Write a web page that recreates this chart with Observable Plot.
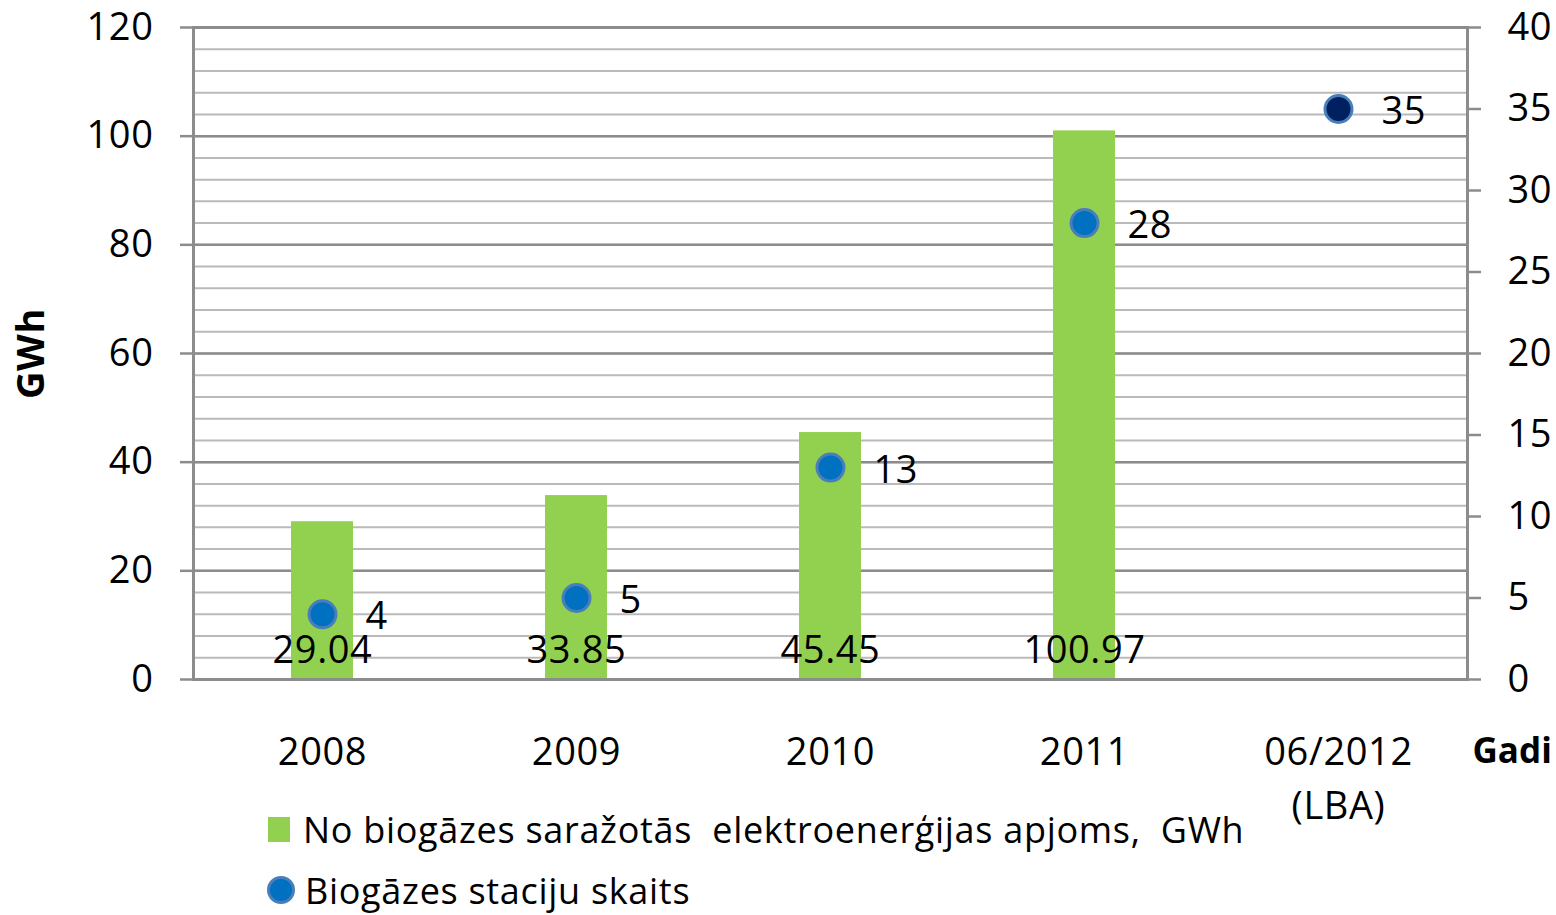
<!DOCTYPE html>
<html>
<head>
<meta charset="utf-8">
<script src="https://cdn.jsdelivr.net/npm/d3@7"></script>
<script src="https://cdn.jsdelivr.net/npm/@observablehq/plot@0.6"></script>
<style>
  html, body { margin: 0; padding: 0; background: #fff; overflow: hidden; }
  #wrap { position: relative; width: 1556px; height: 915px; font-family: "Open Sans", sans-serif; }
  #wrap svg text { letter-spacing: 0.6px; }
  #wrap svg text.gadi, #wrap svg .gadi text { letter-spacing: 0; }
  g[aria-label="y-axis label"] text { font-weight: bold; letter-spacing: 0; }
  .legend { position: absolute; left: 268px; top: 808px; font-size: 36px; letter-spacing: 0.7px; color: #000; }
  .legend .row { display: flex; align-items: center; height: 42px; margin-bottom: 19px; white-space: pre; }
  .legend .sq { width: 22px; height: 25px; background: #92D050; margin-right: 13px; }
  .legend .dot { width: 22px; height: 22px; border-radius: 50%; background: #0070C0; border: 3px solid #4A7EBB; margin-left: -1px; margin-right: 10px; }
</style>
</head>
<body>
<div id="wrap"></div>
<script>
// ---- data ----
const categories = ["2008", "2009", "2010", "2011", "06/2012"];
const tickLabels = ["2008", "2009", "2010", "2011", "06/2012\n(LBA)"];
const gwh = [29.04, 33.85, 45.45, 100.97, null];
const stations = [4, 5, 13, 28, 35];
const leftTicks = [0, 20, 40, 60, 80, 100, 120];
const rightTicks = [0, 5, 10, 15, 20, 25, 30, 35, 40];
const legendLabels = ["No biogāzes saražotās  elektroenerģijas apjoms,  GWh", "Biogāzes staciju skaits"];

// ---- derived tables ----
const leftMax = 120, rightMax = 40, ratio = leftMax / rightMax;
const bars = categories.map((c, i) => ({cat: c, v: gwh[i]})).filter(d => d.v != null);
const pts = categories.map((c, i) => ({cat: c, n: stations[i]}));
const minorGrid = d3.range(0, leftMax + 1, 4);
const labelOf = new Map(categories.map((c, i) => [c, tickLabels[i]]));

const chart = Plot.plot({
  width: 1556,
  height: 860,
  marginLeft: 193,
  marginRight: 89,
  marginTop: 27,
  marginBottom: 181,
  style: {fontFamily: "Open Sans, sans-serif", fontSize: "38px", color: "#000", background: "#fff"},
  x: {type: "band", domain: categories, paddingInner: 0.757, paddingOuter: 0.3785, align: 0.5},
  y: {domain: [0, leftMax]},
  marks: [
    Plot.ruleY(minorGrid, {stroke: "#bababa", strokeWidth: 2}),
    Plot.ruleY(leftTicks, {stroke: "#8c8c8c", strokeWidth: 2.5}),
    Plot.barY(bars, {x: "cat", y: "v", fill: "#92D050"}),
    Plot.frame({stroke: "#8c8c8c", strokeWidth: 3}),
    Plot.axisY(leftTicks, {anchor: "left", tickSize: 13, tickPadding: 27, stroke: "#8c8c8c", strokeWidth: 2.5, fill: "#000",
      label: "GWh", labelAnchor: "center", labelOffset: 176, labelArrow: "none"}),
    Plot.axisY(rightTicks.map(d => d * ratio), {anchor: "right", tickSize: 13, tickPadding: 27, stroke: "#8c8c8c", strokeWidth: 2.5, fill: "#000",
      tickFormat: d => String(Math.round(d / ratio)), label: null}),
    Plot.axisX({tickSize: 0, tickPadding: 47, tickFormat: d => labelOf.get(d), lineHeight: 1.42, fill: "#000", label: null}),
    Plot.text(bars, {x: "cat", y: 0, text: d => d.v.toFixed(2), dy: -29, lineAnchor: "middle", fill: "#000"}),
    Plot.dot(pts, {x: "cat", y: d => d.n * ratio, r: 13.5,
      fill: d => d.cat === "06/2012" ? "#002060" : "#0070C0", stroke: "#4A7EBB", strokeWidth: 3}),
    Plot.text(pts, {x: "cat", y: d => d.n * ratio, text: d => String(d.n), textAnchor: "start", dx: 43, dy: 3, fill: "#000"}),
    Plot.text(["Gadi"], {frameAnchor: "bottom-right", textAnchor: "start", lineAnchor: "middle", dx: 5, dy: 72,
      fontWeight: "bold", fontSize: 35, fill: "#000", className: "gadi"})
  ]
});

const wrap = document.getElementById("wrap");
wrap.appendChild(chart);

const legend = document.createElement("div");
legend.className = "legend";
legend.innerHTML =
  `<div class="row"><div class="sq"></div><span>${legendLabels[0]}</span></div>` +
  `<div class="row"><div class="dot"></div><span>${legendLabels[1]}</span></div>`;
wrap.appendChild(legend);
</script>
</body>
</html>
